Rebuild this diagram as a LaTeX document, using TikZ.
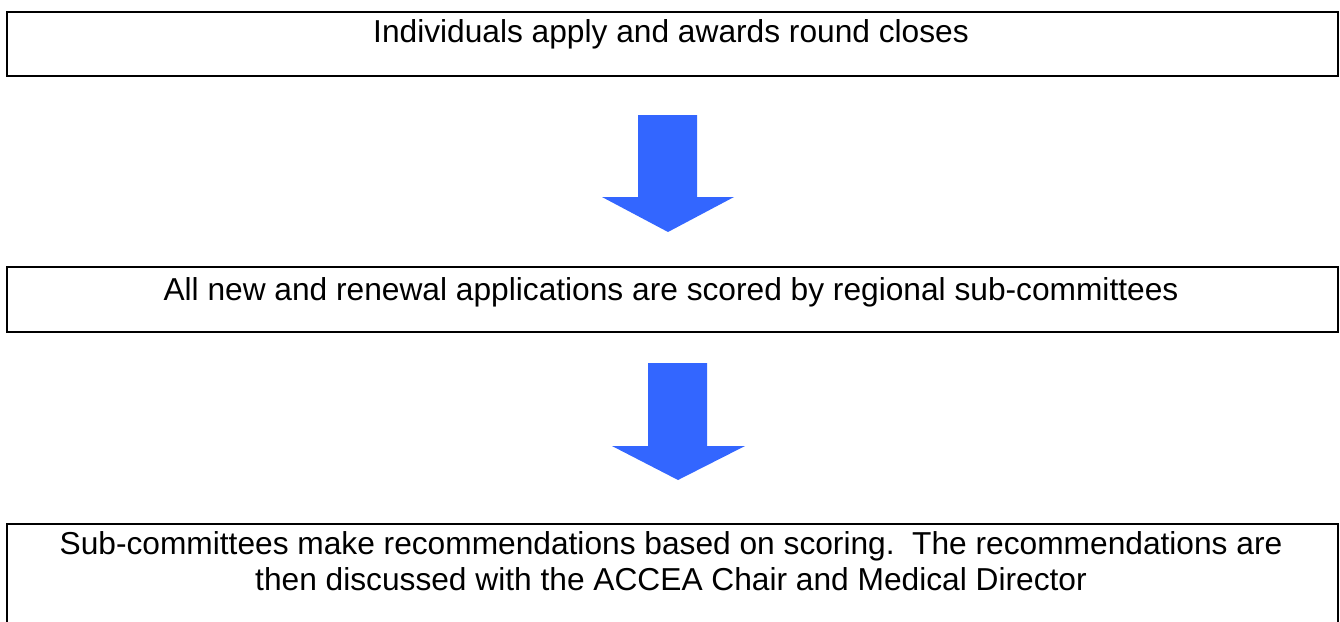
\documentclass[tikz,border=0pt]{standalone}
\usepackage{fontspec}
\setmainfont{Liberation Sans}
\definecolor{arrowblue}{RGB}{51,102,255}
\begin{document}
\begin{tikzpicture}[x=1pt,y=-1pt,
    box/.style={draw,line width=2pt,minimum width=1331pt,inner sep=0pt},
    boxtext/.style={font=\fontsize{31.7}{36}\selectfont,anchor=base,align=center,inner sep=0pt}]
   \clip (0,0) rectangle (1340,621);
   % stages
   \node [box,minimum height=64pt] (apply) at (672.5,44) {};
   \node [boxtext] (applytxt) at (671,42) {Individuals apply and awards round closes};
   \node [box,minimum height=65pt] (score) at (672.5,299.5) {};
   \node [boxtext] (scoretxt) at (671,300) {All new and renewal applications are scored by regional sub-committees};
   \node [box,line width=1.5pt,minimum height=120pt] (recommend) at (672.5,584) {};
   \node [boxtext] (recommendtxt) at (671,590) {Sub-committees make recommendations based on scoring.\ \ The recommendations are\\then discussed with the ACCEA Chair and Medical Director};
   % arrows
   \fill [arrowblue] (638,115) -- (697,115) -- (697,197) -- (734,197) -- (668,232)
      -- (602,197) -- (638,197) -- cycle;
   \fill [arrowblue] (648,363) -- (707,363) -- (707,446) -- (745,446) -- (678,480)
      -- (612,446) -- (648,446) -- cycle;
\end{tikzpicture}
\end{document}
